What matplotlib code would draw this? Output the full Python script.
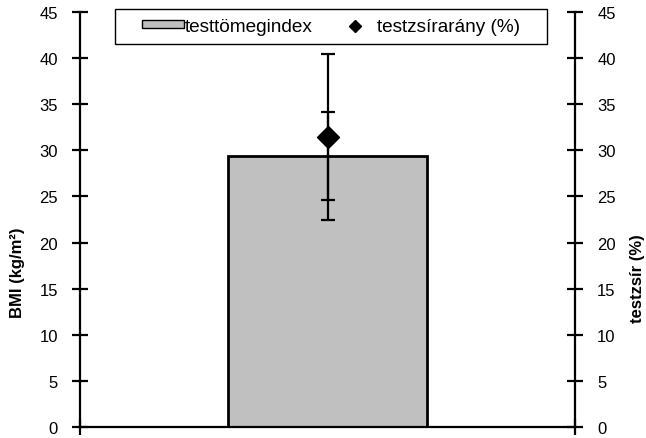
import matplotlib
matplotlib.use("Agg")
import matplotlib.pyplot as plt
from matplotlib.patches import Patch, Rectangle
from matplotlib.lines import Line2D

# Data
categories = [0.5]
bmi_mean = [29.4]
bmi_sd = [4.8]
fat_mean = [31.5]
fat_sd = [9.0]
yticks = [0, 5, 10, 15, 20, 25, 30, 35, 40, 45]

plt.rcParams["font.family"] = ["Liberation Sans", "DejaVu Sans"]
fs = 12
leg_fs = 13.7

fig = plt.figure(figsize=(6.46, 4.39), dpi=100)
ax = fig.add_axes([80 / 646, 11 / 439, 495 / 646, 415 / 439])
ax2 = ax.twinx()

# BMI bar with SD
ax.bar(categories, bmi_mean, width=0.402, color="#C0C0C0", edgecolor="black",
       linewidth=2, zorder=2)
ax.errorbar(categories, bmi_mean, yerr=bmi_sd, fmt="none", ecolor="black",
            elinewidth=1.6, capsize=4.7, capthick=1.6, zorder=3)

# body fat diamond with SD
ax2.errorbar(categories, fat_mean, yerr=fat_sd, fmt="D", color="black",
             markersize=11, elinewidth=1.6, capsize=4.7, capthick=1.6, zorder=4)

for a in (ax, ax2):
    a.set_xlim(0, 1)
    a.set_ylim(0, 45)
    a.set_yticks(yticks)
    a.spines["top"].set_visible(False)
    for s in a.spines.values():
        s.set_linewidth(1.6)
ax.spines["right"].set_visible(False)
ax2.spines["left"].set_visible(False)
ax2.spines["bottom"].set_visible(False)

ax.set_xticks([0, 1])
ax.set_xticklabels(["", ""])
ax.tick_params(axis="x", direction="inout", length=11, width=1.6)
ax.tick_params(axis="y", direction="inout", length=11, width=1.6, pad=10.5,
               labelsize=fs)
ax2.tick_params(axis="y", direction="inout", length=11, width=1.6, pad=10.5,
                labelsize=fs)

ax.set_ylabel("BMI (kg/m²)", fontsize=fs, fontweight="bold")
ax.yaxis.set_label_coords(-0.111, 0.373)
ax2.set_ylabel("testzsír (%)", fontsize=fs, fontweight="bold")
ax2.yaxis.set_label_coords(1.111, 0.36)

# legend box drawn separately so the padding can match
box = (35 / 495, 383 / 415, 432 / 495, 35 / 415)
ax2.add_patch(Rectangle(box[:2], box[2], box[3], transform=ax2.transAxes,
                        facecolor="white", edgecolor="black", linewidth=1.0,
                        clip_on=False, zorder=5))
handles = [
    Patch(facecolor="#C0C0C0", edgecolor="black", linewidth=1),
    Line2D([], [], marker="D", color="black", linestyle="none", markersize=6.5),
]
labels = ["testtömegindex", "testzsírarány (%)"]
leg = ax2.legend(handles, labels, ncol=2, loc="center", bbox_to_anchor=box,
                 fontsize=leg_fs, frameon=False, handlelength=2.2,
                 handleheight=0.26, handletextpad=0.05, borderaxespad=0,
                 borderpad=0, columnspacing=1.15)
leg.set_zorder(6)

fig.savefig("out.png", dpi=100)
